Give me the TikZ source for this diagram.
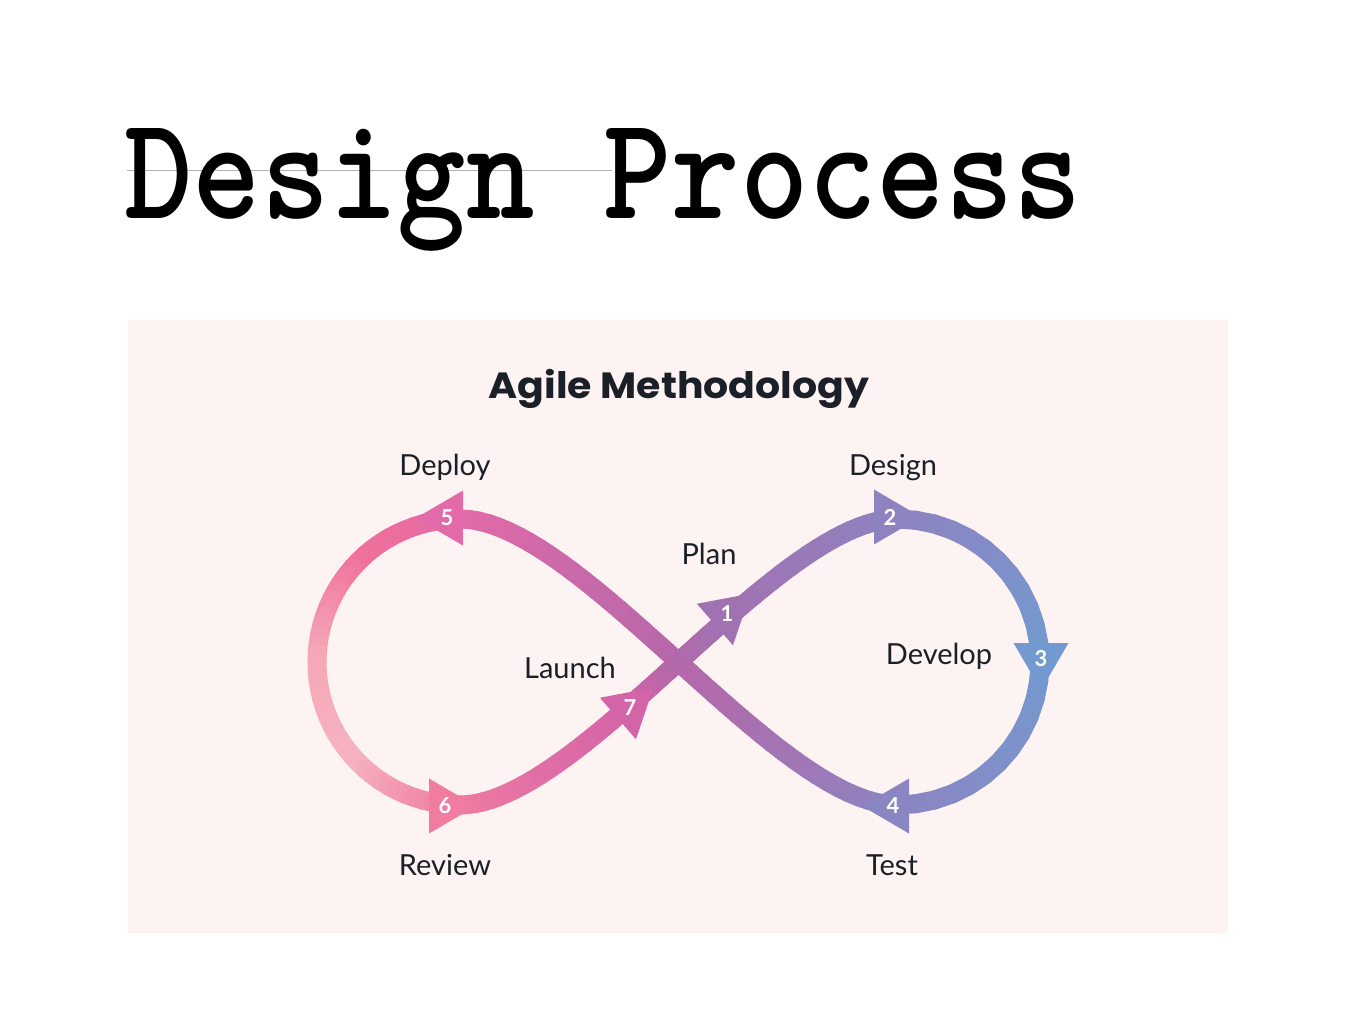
\documentclass[tikz,border=0pt]{standalone}
\usepackage{fontspec}
\setmainfont{Lato}
\newfontfamily\subfont{Poppins}
\usetikzlibrary{calc}
\definecolor{bgpink}{HTML}{FDF3F2}
\definecolor{labelc}{HTML}{1B1F27}
\definecolor{cSix}{HTML}{F07CA0}
\definecolor{cSeven}{HTML}{D464A8}
\definecolor{cX}{HTML}{B468AA}
\definecolor{cOne}{HTML}{A172B2}
\definecolor{cTwo}{HTML}{8F82C0}
\definecolor{cThree}{HTML}{739AD0}
\definecolor{cFour}{HTML}{8A86C2}
\definecolor{cFive}{HTML}{E26AA8}
\definecolor{cTL}{HTML}{F0709A}
\definecolor{cL}{HTML}{F5A8B8}
\definecolor{cBL}{HTML}{F6B2C0}
\tikzset{
  strand/.style={line width=19pt, line cap=round},
  lbl/.style={anchor=base, font=\fontsize{29}{31}\selectfont, text=labelc, inner sep=0pt},
  num/.style={font=\bfseries\fontsize{22}{22}\selectfont, text=white, inner sep=0pt},
  declare function={bz(\tv,\ua,\ub,\uc,\ud)=(1-\tv)^3*\ua+3*(1-\tv)^2*\tv*\ub+3*(1-\tv)*\tv^2*\uc+\tv^3*\ud;}
}
% gradient bezier piece: {x-list}{y-list}{t0}{t1}{col0}{col1}
\newcommand\gbez[6]{%
  \foreach \k in {0,...,19}{%
    \pgfmathsetmacro\tA{#3+(#4-#3)*\k/20}%
    \pgfmathsetmacro\tB{#3+(#4-#3)*(\k+1)/20}%
    \pgfmathsetmacro\mixp{100-100*(\k+0.5)/20}%
    \draw[strand, color=#5!\mixp!#6] ({bz(\tA,#1)},{bz(\tA,#2)}) -- ({bz(\tB,#1)},{bz(\tB,#2)});
  }}
% gradient arc piece: cx, cy, r, a0, a1, col0, col1
\newcommand\garc[7]{%
  \foreach \k in {0,...,11}{%
    \pgfmathsetmacro\angA{#4+(#5-#4)*\k/12}%
    \pgfmathsetmacro\angB{#4+(#5-#4)*(\k+1)/12}%
    \pgfmathsetmacro\mixp{100-100*(\k+0.5)/12}%
    \draw[strand, color=#6!\mixp!#7] ({#1+#3*cos(\angA)},{#2+#3*sin(\angA)}) -- ({#1+#3*cos(\angB)},{#2+#3*sin(\angB)});
  }}
% arrow triangle with number: x, y, angle, colour, digit, name
\newcommand\tri[6]{%
  \fill[#4, shift={(#1,#2)}, rotate=#3] (31,0) -- (-16,27.5) -- (-16,-27.5) -- cycle;
  \node[num] (#6) at (#1,#2) {#5};}
\begin{document}
\begin{tikzpicture}[x=1pt, y=-1pt]
\useasboundingbox[fill=white] (0,0) rectangle (1357,1034);
% title
\coordinate (lineA) at (127,170);
\coordinate (lineB) at (612,170);
\draw[black!30, line width=1pt] (lineA) -- (lineB);
\node[anchor=base west, inner sep=0pt] (title) at (124,218) {\resizebox{958pt}{90pt}{\ttfamily\bfseries Design Process}};
% panel
\fill[bgpink] (128,320) rectangle (1228,933);
\node[anchor=base, inner sep=0pt, text=labelc, font=\subfont\bfseries\fontsize{36.5}{40}\selectfont] (sub) at (679,398) {\scalebox{1.08}[1]{Agile Methodology}};
% left loop (top -> left -> bottom)
\garc{460}{662}{143}{-90}{-135}{cFive}{cTL}
\garc{460}{662}{143}{-135}{-180}{cTL}{cL}
\garc{460}{662}{143}{-180}{-225}{cL}{cBL}
\garc{460}{662}{143}{-225}{-270}{cBL}{cSix}
% right loop (top -> right -> bottom)
\garc{897}{662}{143}{-90}{0}{cTwo}{cThree}
\garc{897}{662}{143}{0}{90}{cThree}{cFour}
% falling strand (bottom right -> top left)
\gbez{897,777,580,460}{805,805,519,519}{0}{0.5}{cFour}{cX}
\gbez{897,777,580,460}{805,805,519,519}{0.5}{1}{cX}{cFive}
% rising strand (bottom left -> top right)
\gbez{460,580,777,897}{805,805,519,519}{0}{0.4}{cSix}{cSeven}
\gbez{460,580,777,897}{805,805,519,519}{0.4}{0.5}{cSeven}{cX}
\gbez{460,580,777,897}{805,805,519,519}{0.5}{0.6}{cX}{cOne}
\gbez{460,580,777,897}{805,805,519,519}{0.6}{1}{cOne}{cTwo}
% arrows
\tri{727}{614}{41}{cOne}{1}{n1}
\tri{890}{517}{0}{cTwo}{2}{n2}
\tri{1041}{659}{-90}{cThree}{3}{n3}
\tri{893}{806}{180}{cFour}{4}{n4}
\tri{447}{518}{180}{cFive}{5}{n5}
\tri{445}{806}{0}{cSix}{6}{n6}
\tri{630}{708}{41}{cSeven}{7}{n7}
% labels
\node[lbl] (deploy) at (445,475) {Deploy};
\node[lbl] (design) at (893,475) {Design};
\node[lbl] (plan) at (709,564) {Plan};
\node[lbl] (launch) at (570,678) {Launch};
\node[lbl] (develop) at (939,664) {Develop};
\node[lbl] (review) at (445,875) {Review};
\node[lbl] (test) at (892,875) {Test};
\end{tikzpicture}
\end{document}
